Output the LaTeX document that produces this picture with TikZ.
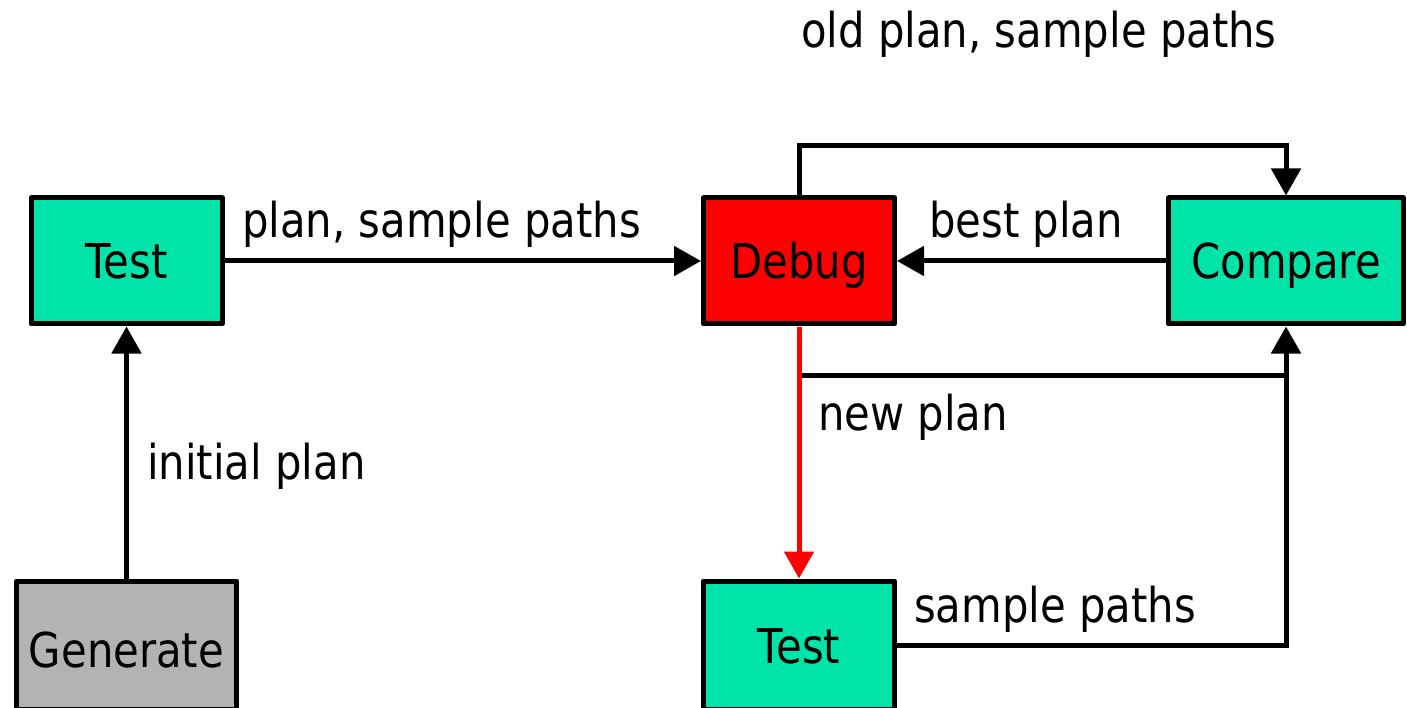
\documentclass[tikz,border=0pt]{standalone}
\usepackage{fontspec}
\setmainfont{DejaVu Sans}[FakeStretch=0.87]
\usetikzlibrary{arrows.meta}
\definecolor{boxgreen}{RGB}{0,228,170}
\definecolor{boxgray}{RGB}{179,179,179}
\begin{document}
\begin{tikzpicture}[x=1pt,y=-1pt,
  box/.style={draw=black, line width=5pt, line join=round,
    minimum width=191pt, minimum height=126pt, inner sep=0pt,
    text height=36pt, text depth=0pt,
    font=\fontsize{48}{58}\selectfont},
  lowbox/.style={box, minimum height=128pt},
  lbl/.style={anchor=base west, inner sep=0pt, font=\fontsize{48}{58}\selectfont},
  link/.style={line width=5pt, line join=miter},
  flow/.style={link, -{Triangle[length=27pt,width=29pt]}}]
\useasboundingbox (0,0) rectangle (1407,708);

% boxes
\node[box, fill=boxgreen] (test1) at (126.5,261) {Test};
\node[box, fill=red] (debug) at (799,261) {Debug};
\node[box, fill=boxgreen, minimum width=235pt] (compare) at (1286,261) {Compare};
\node[lowbox, fill=boxgray, minimum width=220pt, text height=44pt] (generate) at (126.5,645) {Generate};
\node[lowbox, fill=boxgreen] (test2) at (799,645) {Test};

% helper points for the bent connectors
\coordinate (topbend) at (799,146);
\coordinate (split) at (799,375);
\coordinate (join) at (1286,375);

% connectors
\draw[flow] (generate) -- (test1);
\draw[flow] (test1) -- (debug);
\draw[flow] (compare) -- (debug);
\draw[flow] (debug.north) -- (topbend) -| (compare.north);
\draw[link] (split) -- (join);
\draw[flow] (test2.east) -- (test2.east -| compare.south) -- (compare.south);
\draw[flow, red] (debug) -- (test2);

% labels
\node[lbl] (lold) at (801,48) {old plan, sample paths};
\node[lbl] (lplan) at (242,238) {plan, sample paths};
\node[lbl] (lbest) at (929,238) {best plan};
\node[lbl] (linit) at (147,479) {initial plan};
\node[lbl] (lnew) at (818,430) {new plan};
\node[lbl] (lsample) at (914,622) {sample paths};
\end{tikzpicture}
\end{document}
